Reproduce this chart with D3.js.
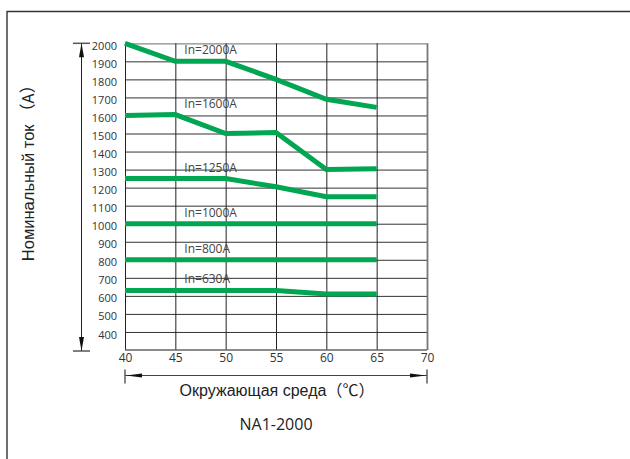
<!DOCTYPE html>
<html><head><meta charset="utf-8">
<script src="https://cdn.jsdelivr.net/npm/d3@7"></script>
<style>body{margin:0;background:#fff;overflow:hidden}</style>
</head><body><svg id="c" width="630" height="459"></svg>
<script>
// ---- data ----
const temps = [40, 45, 50, 55, 60, 65];
const ratings = ["In=2000A", "In=1600A", "In=1250A", "In=1000A", "In=800A", "In=630A"];
const s2000 = [2000, 1900, 1900, 1800, 1690, 1645];
const s1600 = [1600, 1605, 1500, 1505, 1300, 1305];
const s1250 = [1250, 1250, 1250, 1205, 1150, 1150];
const s1000 = [1000, 1000, 1000, 1000, 1000, 1000];
const s800  = [800, 800, 800, 800, 800, 800];
const s630  = [630, 630, 630, 630, 610, 610];
const xTicks = [40, 45, 50, 55, 60, 65, 70];
const yTicks = [400, 500, 600, 700, 800, 900, 1000, 1100, 1200, 1300, 1400, 1500, 1600, 1700, 1800, 1900, 2000];
const xDomain = [40, 70];
const yDomain = [300, 2000];
const xTitleParts = ["Окружающая среда", "（℃）"];
const yTitleParts = ["Номинальный ток ", "（A）"];
const caption = "NA1-2000";

const series = [s2000, s1600, s1250, s1000, s800, s630].map((v, i) => ({name: ratings[i], values: v}));

// ---- layout ----
const svg = d3.select("#c");
const L = 125, R = 427, T = 43.3, B = 350;
const x = d3.scaleLinear().domain(xDomain).range([L, R]);
const y = d3.scaleLinear().domain(yDomain).range([B, T]);
const green = "#00a651";
const numFont = "'Open Sans', 'DejaVu Sans', sans-serif";
const ruFont = "'Liberation Sans', Arial, sans-serif";
const cjkFont = "'Noto Sans CJK SC', sans-serif";

// outer frame
svg.append("path").attr("d", "M7,459 V11.5 H630").attr("fill", "none")
  .attr("stroke", "#333").attr("stroke-width", 1.4);

// horizontal grid
svg.append("g").attr("transform", `translate(${L},0)`)
  .call(d3.axisLeft(y).tickValues(yTicks).tickSize(-(R - L)).tickFormat(""))
  .call(g => g.select(".domain").remove())
  .call(g => g.selectAll(".tick line").attr("stroke", d => d === 2000 ? "#888" : "#333")
    .attr("stroke-width", d => d === 2000 ? 1.3 : 1));

// vertical grid
svg.append("g").attr("transform", `translate(0,${B})`)
  .call(d3.axisBottom(x).tickValues(xTicks).tickSize(-(B - T)).tickFormat(""))
  .call(g => g.select(".domain").remove())
  .call(g => g.selectAll(".tick line").attr("stroke", d => d === 70 ? "#777" : "#222")
    .attr("stroke-width", d => d === 70 ? 1.8 : 1));

// bottom border
svg.append("line").attr("x1", L).attr("x2", R).attr("y1", B).attr("y2", B)
  .attr("stroke", "#666").attr("stroke-width", 1.5);

// y tick labels
svg.append("g").attr("transform", `translate(${L - 8},0)`)
  .call(d3.axisLeft(y).tickValues(yTicks).tickSize(0).tickPadding(0).tickFormat(d3.format("d")))
  .call(g => g.select(".domain").remove())
  .call(g => g.selectAll("text").attr("font-family", numFont).attr("font-size", 11)
    .attr("fill", "#333").attr("dy", "0.55em"));

// x tick labels
svg.append("g").attr("transform", `translate(0,${B})`)
  .call(d3.axisBottom(x).tickValues(xTicks).tickSize(0).tickPadding(3).tickFormat(d3.format("d")))
  .call(g => g.select(".domain").remove())
  .call(g => g.selectAll("text").attr("font-family", numFont).attr("font-size", 12)
    .attr("fill", "#333"));

// series lines
const line = d3.line().x((d, i) => x(temps[i])).y(d => y(d));
svg.append("g").selectAll("path").data(series).join("path")
  .attr("d", d => line(d.values))
  .attr("fill", "none").attr("stroke", green).attr("stroke-width", 5)
  .attr("stroke-linejoin", "miter").attr("stroke-linecap", "butt");

// series labels
svg.append("g").selectAll("text").data(series).join("text")
  .attr("x", x(temps[1]) + 9)
  .attr("y", d => y(d.values[1]) - 7)
  .attr("font-family", numFont).attr("font-size", 12).attr("fill", "#444")
  .text(d => d.name);

// y arrow
const ax = 81.5;
svg.append("line").attr("x1", ax).attr("x2", ax).attr("y1", y(yDomain[1])).attr("y2", B + 1)
  .attr("stroke", "#222").attr("stroke-width", 1);
[y(yDomain[1]), B + 1].forEach((yy, i) => {
  svg.append("line").attr("x1", 73).attr("x2", 90).attr("y1", yy).attr("y2", yy)
    .attr("stroke", "#555").attr("stroke-width", 1.5);
  const dir = i === 0 ? 1 : -1;
  svg.append("path").attr("d", `M${ax},${yy} L${ax - 2.5},${yy + dir * 14} L${ax + 2.5},${yy + dir * 14} Z`)
    .attr("fill", "#111");
});

// x arrow
const ay = 375.5;
svg.append("line").attr("x1", L).attr("x2", R).attr("y1", ay).attr("y2", ay)
  .attr("stroke", "#444").attr("stroke-width", 1);
[L, R].forEach((xx, i) => {
  svg.append("line").attr("x1", xx).attr("x2", xx).attr("y1", ay - 6).attr("y2", ay + 8)
    .attr("stroke", "#444").attr("stroke-width", 1.3);
  const dir = i === 0 ? 1 : -1;
  svg.append("path").attr("d", `M${xx + dir},${ay} L${xx + dir * 17},${ay - 2} L${xx + dir * 17},${ay + 2} Z`)
    .attr("fill", "#111");
});

// titles
function titled(sel, parts) {
  sel.append("tspan").attr("font-family", ruFont).text(parts[0]);
  sel.append("tspan").attr("font-family", cjkFont).text(parts[1]);
}
const xt = svg.append("text").attr("x", (L + R) / 2 + 1).attr("y", 396).attr("text-anchor", "middle")
  .attr("font-size", 16).attr("fill", "#222");
titled(xt, xTitleParts);
const yt = svg.append("text").attr("transform", "translate(34,169) rotate(-90)").attr("text-anchor", "middle")
  .attr("font-size", 16.5).attr("fill", "#222");
titled(yt, yTitleParts);
svg.append("text").attr("x", 276).attr("y", 430).attr("text-anchor", "middle")
  .attr("font-family", numFont).attr("font-size", 16).attr("fill", "#222").text(caption);
</script></body></html>
